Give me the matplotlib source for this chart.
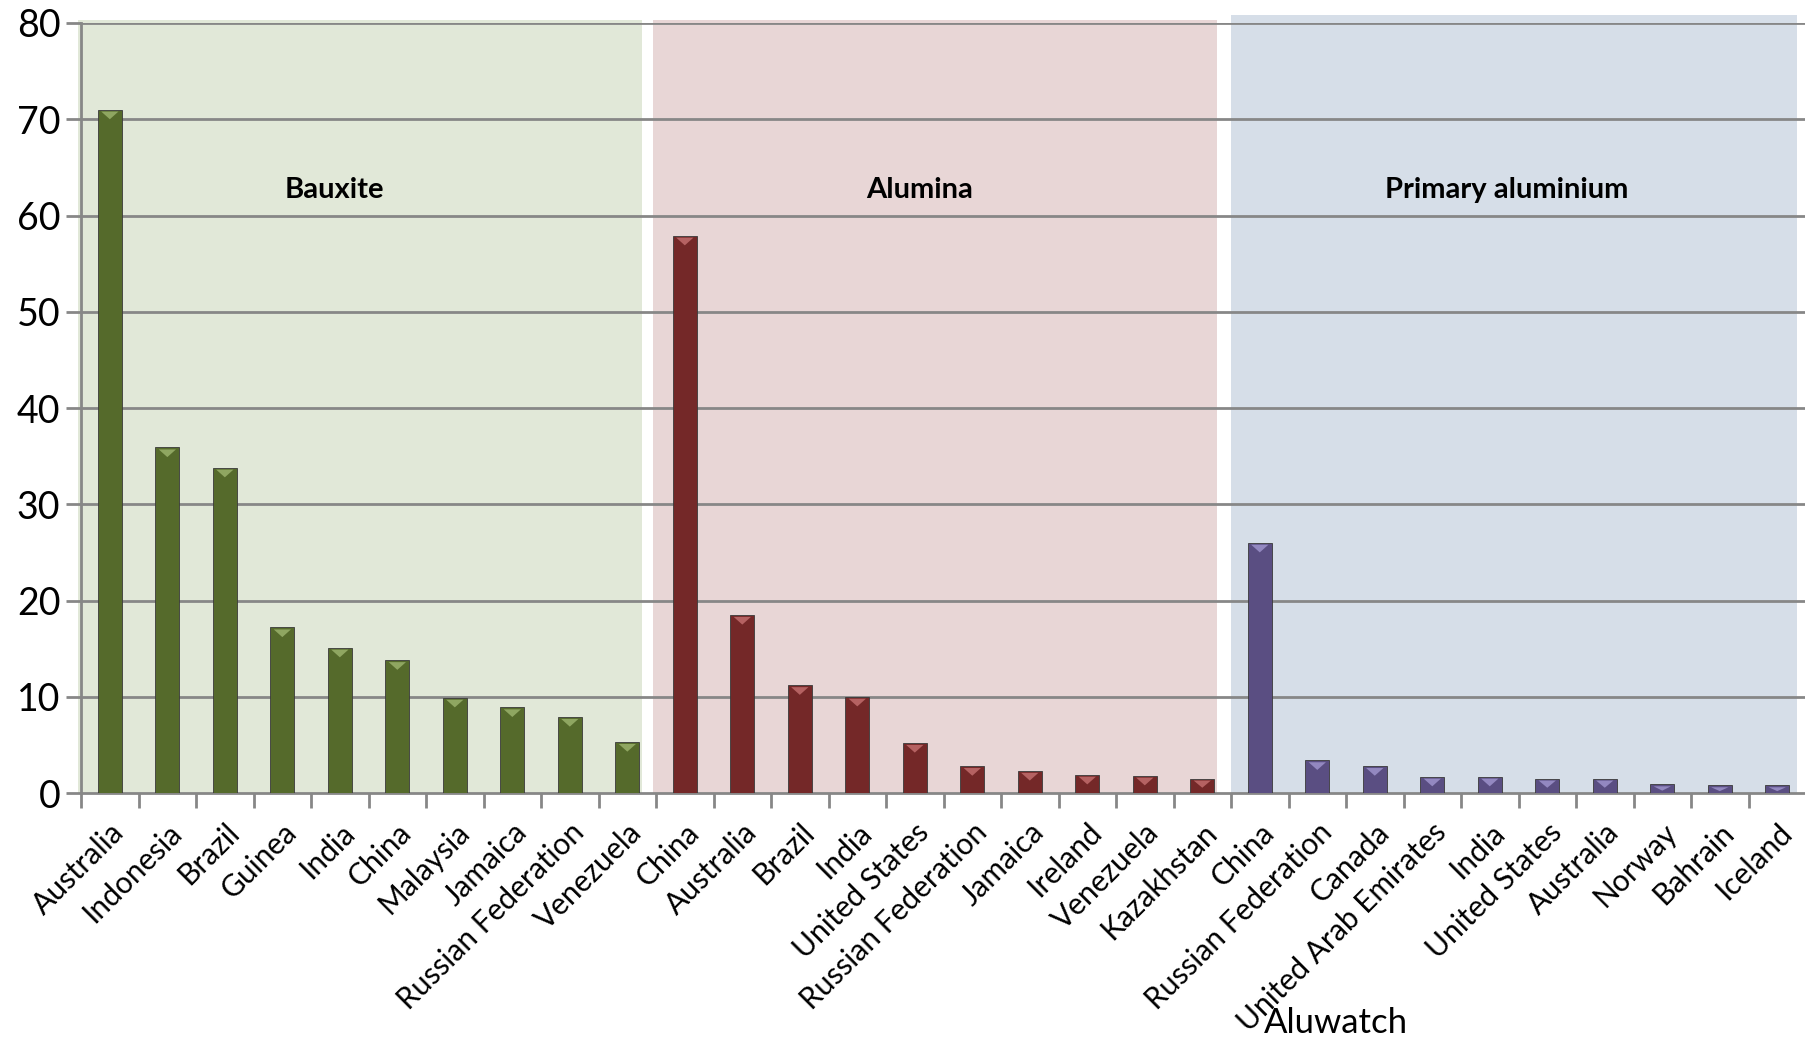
import numpy as np
from matplotlib import pyplot as plt
from matplotlib.patches import Rectangle, Polygon

bauxite_countries = ['Australia', 'Indonesia', 'Brazil', 'Guinea', 'India', 'China',
                     'Malaysia', 'Jamaica', 'Russian Federation', 'Venezuela']
bauxite_values = [71.0, 35.9, 33.8, 17.2, 15.1, 13.8, 9.9, 8.9, 7.9, 5.3]

alumina_countries = ['China', 'Australia', 'Brazil', 'India', 'United States',
                     'Russian Federation', 'Jamaica', 'Ireland', 'Venezuela', 'Kazakhstan']
alumina_values = [57.9, 18.5, 11.2, 10.0, 5.2, 2.8, 2.3, 1.9, 1.8, 1.5]

primary_countries = ['China', 'Russian Federation', 'Canada', 'United Arab Emirates', 'India',
                     'United States', 'Australia', 'Norway', 'Bahrain', 'Iceland']
primary_values = [26.0, 3.4, 2.8, 1.7, 1.7, 1.5, 1.5, 0.9, 0.8, 0.8]

group_names = ['Bauxite', 'Alumina', 'Primary aluminium']
bar_colors = ['#556a2b', '#742828', '#5a4e82']
tip_colors = ['#8fa661', '#b56262', '#9388c0']
band_colors = ['#e1e8d8', '#e8d6d6', '#d6dee8']

plt.rcParams['font.family'] = ['Lato', 'DejaVu Sans']

fig = plt.figure(figsize=(18.06, 10.45), dpi=100)
ax = fig.add_axes([0.0449, 0.2411, 0.9551, 0.7369])

groups = [(bauxite_countries, bauxite_values),
          (alumina_countries, alumina_values),
          (primary_countries, primary_values)]

# shaded panels behind each group
band_spans = [(-0.56, 9.26, 80.35), (9.44, 19.26, 80.35), (19.5, 29.34, 80.8)]
for (x0, x1, top), c in zip(band_spans, band_colors):
    ax.add_patch(Rectangle((x0, 0), x1 - x0, top, facecolor=c, edgecolor='none',
                           zorder=0, clip_on=False))

for y in range(10, 90, 10):
    ax.axhline(y, color='#878787', lw=2, zorder=1)

labels = []
width = 0.42
offset = 0
for g, (names, vals) in enumerate(groups):
    xs = np.arange(offset, offset + len(vals))
    ax.bar(xs, vals, width=width, color=bar_colors[g], edgecolor='#3a3a3a',
           linewidth=0.6, zorder=3)
    for x, v in zip(xs, vals):
        h = min(0.8, v * 0.5)
        tri = Polygon([(x - width / 2 + 0.06, v - 0.2), (x + width / 2 - 0.06, v - 0.2),
                       (x, v - 0.2 - h)], closed=True, facecolor=tip_colors[g],
                      edgecolor='none', zorder=4)
        ax.add_patch(tri)
    labels += names
    offset += len(vals)

ax.text(3.9, 62.6, group_names[0], ha='center', va='center', fontsize=21, fontweight='bold')
ax.text(14.08, 62.6, group_names[1], ha='center', va='center', fontsize=21, fontweight='bold')
ax.text(24.3, 62.6, group_names[2], ha='center', va='center', fontsize=21, fontweight='bold')

ax.set_xlim(-0.5, 29.5)
ax.set_ylim(0, 80)
ax.set_yticks(range(0, 90, 10))
ax.tick_params(axis='y', labelsize=27, length=11, width=2, color='#878787', pad=4)

ax.set_xticks(np.arange(len(labels)))
ax.set_xticklabels(labels, rotation=45, ha='right', rotation_mode='anchor', fontsize=21.5)
ax.set_xticks(np.arange(-0.5, 30, 1), minor=True)
ax.tick_params(axis='x', which='major', length=0, pad=18)
ax.tick_params(axis='x', which='minor', length=11, width=2, color='#878787')

for side in ['top', 'right']:
    ax.spines[side].set_visible(False)
for side in ['left', 'bottom']:
    ax.spines[side].set_color('#878787')
    ax.spines[side].set_linewidth(2)
ax.spines['left'].set_zorder(2)
ax.patch.set_alpha(0)

fig.text(0.7397, 0.021, 'Aluwatch', ha='center', va='center', fontsize=25)

plt.savefig('out.png', dpi=100)
